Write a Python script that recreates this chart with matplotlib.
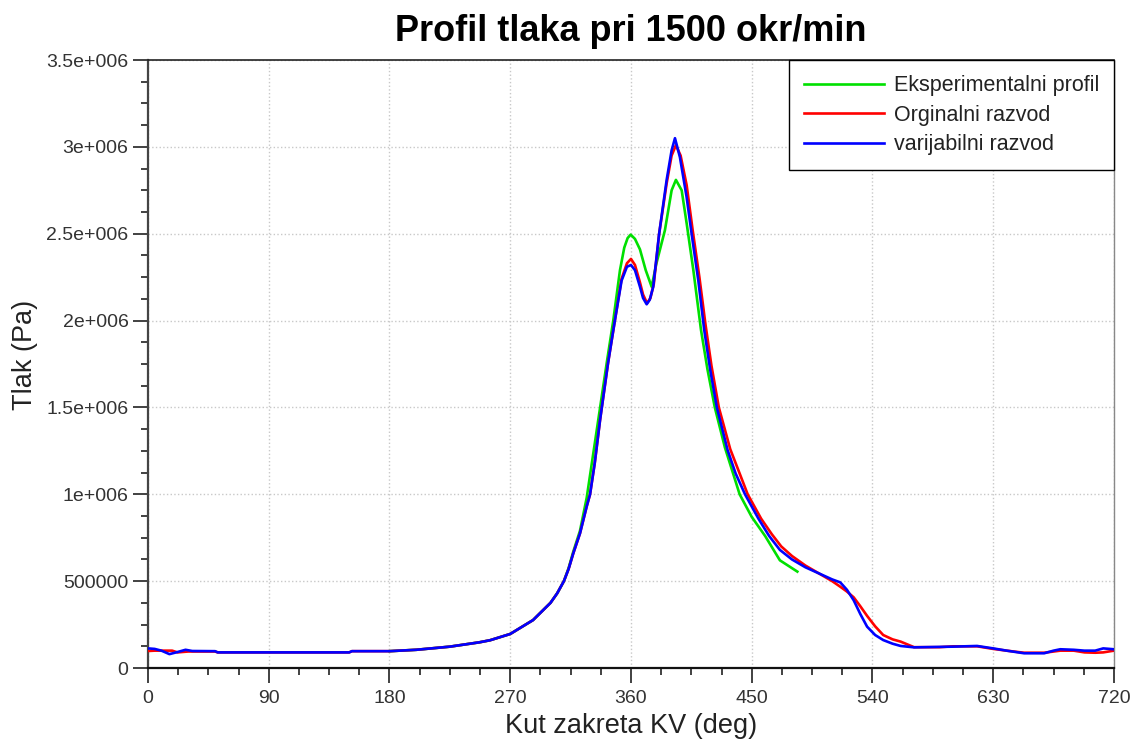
import matplotlib
matplotlib.use("Agg")
import matplotlib.pyplot as plt
import numpy as np
from matplotlib.ticker import MultipleLocator

plt.rcParams['font.family'] = ['Liberation Sans', 'DejaVu Sans']

# Eksperimentalni profil (kut [deg], tlak [MPa])
kut_eksp = [180, 200, 225, 247, 255, 270, 287, 300, 305, 310, 313.5, 317, 322, 327,
            332, 337, 342, 346.8, 351.8, 355, 357.5, 359.8, 363, 366.7, 371, 375.4,
            379, 385.3, 390.3, 393.5, 397.8, 401.5, 406.5, 412.2, 417, 422.5, 430,
            441, 450, 460, 471, 478, 484]
tlak_eksp = [0.097, 0.105, 0.123, 0.148, 0.16, 0.196, 0.276, 0.375, 0.43, 0.5, 0.575,
             0.67, 0.79, 0.98, 1.24, 1.5, 1.76, 2.0, 2.29, 2.42, 2.475, 2.495, 2.47,
             2.41, 2.29, 2.195, 2.33, 2.52, 2.75, 2.81, 2.75, 2.56, 2.29, 1.946, 1.72,
             1.5, 1.27, 1.0, 0.87, 0.76, 0.62, 0.585, 0.555]

# Orginalni razvod
kut_orig = [0, 5, 12, 18, 22, 30, 50, 52, 100, 150, 152, 180, 200, 225, 247, 255,
            270, 287, 300, 305, 310, 313.5, 317, 322, 327, 329.5, 333, 337, 343, 348,
            353, 357, 360, 363, 366.7, 369, 372, 374.5, 377, 381, 386.6, 390.3,
            393.5, 397, 401.5, 406, 411, 415.5, 420, 425.5, 434, 447, 457, 465, 472,
            480, 490, 500, 510, 516, 521, 526, 531, 536, 542, 548, 555, 561, 571,
            590, 600, 618, 630, 640, 653, 668, 675, 680, 690, 698, 706, 712, 720]
tlak_orig = [0.098, 0.1, 0.1, 0.1, 0.09, 0.095, 0.095, 0.09, 0.09, 0.09, 0.097, 0.097,
             0.105, 0.123, 0.148, 0.16, 0.196, 0.276, 0.375, 0.43, 0.5, 0.57, 0.66,
             0.775, 0.93, 1.0, 1.18, 1.43, 1.76, 2.0, 2.24, 2.33, 2.355, 2.32, 2.22,
             2.15, 2.1, 2.13, 2.21, 2.5, 2.79, 2.95, 3.01, 2.95, 2.78, 2.52, 2.25,
             1.98, 1.74, 1.5, 1.26, 1.0, 0.86, 0.77, 0.7, 0.645, 0.59, 0.545, 0.5,
             0.468, 0.44, 0.407, 0.355, 0.3, 0.24, 0.19, 0.165, 0.152, 0.12, 0.12,
             0.125, 0.125, 0.11, 0.1, 0.088, 0.088, 0.095, 0.1, 0.1, 0.09, 0.088, 0.09,
             0.1]

# Varijabilni razvod
kut_var = [0, 5, 10, 16, 22, 28, 33, 50, 52, 100, 150, 152, 180, 200, 225, 247, 255,
           270, 287, 300, 305, 310, 313.5, 317, 322, 327, 329.5, 333, 337, 343, 348,
           353, 357, 360, 363, 366.7, 369, 371.7, 374, 376.6, 381, 386.6, 390.3,
           392.8, 396.5, 401.5, 405.2, 410.2, 414.6, 419, 424, 432, 438, 445, 455,
           463, 471, 480, 490, 500, 510, 516, 521, 526, 531, 536, 542, 548, 555, 561,
           571, 600, 618, 630, 640, 653, 668, 675, 680, 690, 698, 706, 712, 720]
tlak_var = [0.113, 0.11, 0.1, 0.08, 0.092, 0.105, 0.098, 0.097, 0.09, 0.09, 0.09,
            0.097, 0.097, 0.105, 0.123, 0.148, 0.16, 0.196, 0.276, 0.375, 0.43, 0.5,
            0.57, 0.66, 0.775, 0.93, 1.0, 1.18, 1.43, 1.76, 2.0, 2.23, 2.31, 2.32,
            2.29, 2.195, 2.13, 2.094, 2.12, 2.195, 2.5, 2.81, 2.98, 3.05, 2.94, 2.71,
            2.5, 2.23, 1.946, 1.72, 1.5, 1.255, 1.12, 1.0, 0.86, 0.76, 0.68, 0.625,
            0.58, 0.545, 0.51, 0.493, 0.45, 0.39, 0.31, 0.238, 0.19, 0.161, 0.14,
            0.127, 0.119, 0.123, 0.127, 0.113, 0.1, 0.085, 0.085, 0.1, 0.108, 0.105,
            0.1, 0.1, 0.113, 0.108]

y_ticks = [0, 0.5e6, 1e6, 1.5e6, 2e6, 2.5e6, 3e6, 3.5e6]
y_tick_labels = ['0', '500000', '1e+006', '1.5e+006', '2e+006', '2.5e+006',
                 '3e+006', '3.5e+006']
x_ticks = [0, 90, 180, 270, 360, 450, 540, 630, 720]

fig = plt.figure(figsize=(11.33, 7.42), dpi=100)
ax = fig.add_axes([0.1306, 0.0997, 0.8526, 0.8194])

ax.plot(kut_eksp, np.array(tlak_eksp) * 1e6, color='#00e000', lw=1.9,
        label='Eksperimentalni profil', zorder=2)
ax.plot(kut_orig, np.array(tlak_orig) * 1e6, color='#ff0000', lw=1.9,
        label='Orginalni razvod', zorder=3)
ax.plot(kut_var, np.array(tlak_var) * 1e6, color='#0000ff', lw=1.9,
        label='varijabilni razvod', zorder=4)

ax.set_xlim(0, 720)
ax.set_ylim(0, 3.5e6)
ax.set_xticks(x_ticks)
ax.set_xticklabels([str(v) for v in x_ticks])
ax.set_yticks(y_ticks)
ax.set_yticklabels(y_tick_labels)
ax.xaxis.set_minor_locator(MultipleLocator(22.5))
ax.yaxis.set_minor_locator(MultipleLocator(125000))

ax.tick_params(which='major', direction='out', length=10.5, width=1.3,
               labelsize=14, colors='#333333')
ax.tick_params(which='minor', direction='out', length=5, width=1.3, colors='#333333')
ax.tick_params(axis='y', which='major', pad=3.5)
ax.tick_params(axis='x', which='major', pad=5)

ax.grid(True, which='major', color='#c8c8c8', linestyle=':', linewidth=1)

ax.spines['left'].set_linewidth(1.6)
ax.spines['left'].set_color('#444444')
ax.spines['bottom'].set_linewidth(1.6)
ax.spines['bottom'].set_color('#111111')
ax.spines['top'].set_linewidth(1.2)
ax.spines['top'].set_color('#222222')
ax.spines['right'].set_linewidth(1.0)
ax.spines['right'].set_color('#888888')

ax.set_title('Profil tlaka pri 1500 okr/min', fontsize=26, fontweight='bold', pad=14)
ax.set_xlabel('Kut zakreta KV (deg)', fontsize=19.5, color='#222222', labelpad=5)
ax.set_ylabel('Tlak (Pa)', fontsize=19.5, color='#222222')
ax.yaxis.set_label_coords(-0.114, 0.515)

leg = ax.legend(loc='upper right', bbox_to_anchor=(1.0, 1.0), borderaxespad=0,
                fancybox=False, edgecolor='black', fontsize=15.5, handlelength=3.7,
                handletextpad=0.45, borderpad=0.7, labelspacing=0.4, framealpha=1)
leg.get_frame().set_linewidth(1.0)
for t in leg.get_texts():
    t.set_color('#222222')

fig.savefig('out.png', dpi=100)
